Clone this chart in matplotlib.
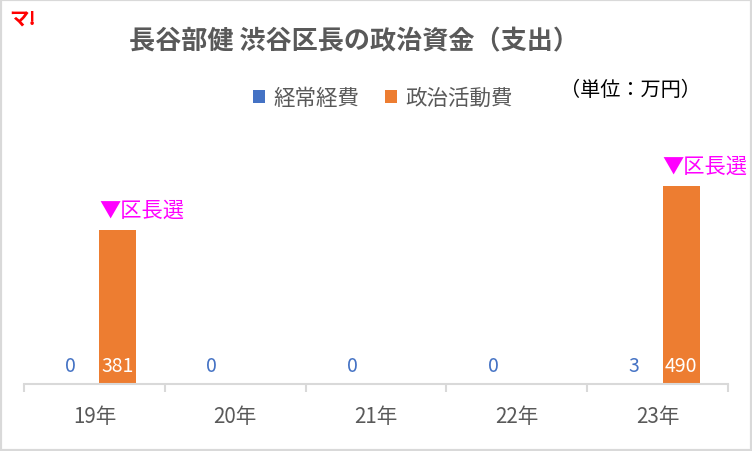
import matplotlib
matplotlib.use("Agg")
import matplotlib.pyplot as plt
from matplotlib.patches import Rectangle

plt.rcParams['font.family'] = ['Noto Sans CJK JP', 'DejaVu Sans']

categories = ['19年', '20年', '21年', '22年', '23年']
keijo = [0, 0, 0, 0, 3]
seiji = [381, 0, 0, 0, 490]
series_names = ['経常経費', '政治活動費']
election_idx = [0, 4]
election_label = '▼区長選'

BLUE = '#4472C4'
ORANGE = '#ED7D31'
GRAY = '#595959'

W, H = 752, 452
fig = plt.figure(figsize=(W/100, H/100), dpi=100)
fig.patch.set_facecolor('white')
fig.add_artist(Rectangle((0, 0), 1, 1, transform=fig.transFigure, fill=False,
                         edgecolor='#D9D9D9', linewidth=3))

ax = fig.add_axes([24/W, (H-385)/H, (728-24)/W, (385-143)/H])
x = list(range(len(categories)))
off = 0.167
bw = 0.262
xb = [i - off for i in x]
xo = [i + off for i in x]
ax.bar(xb, keijo, width=bw, color=BLUE, label=series_names[0])
ax.bar(xo, seiji, width=bw, color=ORANGE, label=series_names[1])
ax.set_xlim(-0.5, len(categories) - 0.5)
ax.set_ylim(0, 600)

for s in ['top', 'right', 'left']:
    ax.spines[s].set_visible(False)
ax.spines['bottom'].set_color('#D9D9D9')
ax.spines['bottom'].set_linewidth(1.5)
ax.set_yticks([])
ax.set_xticks([i - 0.5 for i in range(len(categories) + 1)], minor=False)
ax.set_xticklabels([])
ax.tick_params(axis='x', which='major', length=6, color='#D9D9D9', width=1.5)
ax.set_xticks(x, minor=True)
ax.set_xticklabels(categories, minor=True)
ax.tick_params(axis='x', which='minor', length=0, pad=15, labelsize=14.8, labelcolor=GRAY)

for i in x:
    ax.annotate(str(keijo[i]), (xb[i], 0), xytext=(0, 13.5), textcoords='offset points',
                ha='center', va='center', color=BLUE, fontsize=14)
    if seiji[i] > 0:
        ax.annotate(str(seiji[i]), (xo[i], 0), xytext=(0, 13.5), textcoords='offset points',
                    ha='center', va='center', color='white', fontsize=14)

for i in election_idx:
    ax.annotate(election_label, (xo[i] - bw/2, seiji[i]), xytext=(0, 15),
                textcoords='offset points', ha='left', va='center',
                color='#FF00FF', fontsize=15.3, annotation_clip=False)

fig.text(354/W, 1 - 42/H, '長谷部健 渋谷区長の政治資金（支出）', ha='center', va='center',
         fontsize=18.8, fontweight='bold', color=GRAY)
fig.text(630/W, 1 - 90/H, '（単位：万円）', ha='center', va='center', fontsize=14.5, color='black')
fig.text(9/W, 1 - 19/H, 'マ!', ha='left', va='center', fontsize=14, fontweight='bold', color='#FF0000')

leg = fig.legend(loc='center', bbox_to_anchor=(383/W, 1 - 99/H), ncol=2, frameon=False,
                 fontsize=15.5, handlelength=0.55, handleheight=0.55, handletextpad=0.4,
                 columnspacing=1.2, labelcolor=GRAY)

fig.savefig('out.png', dpi=100, facecolor='white')
